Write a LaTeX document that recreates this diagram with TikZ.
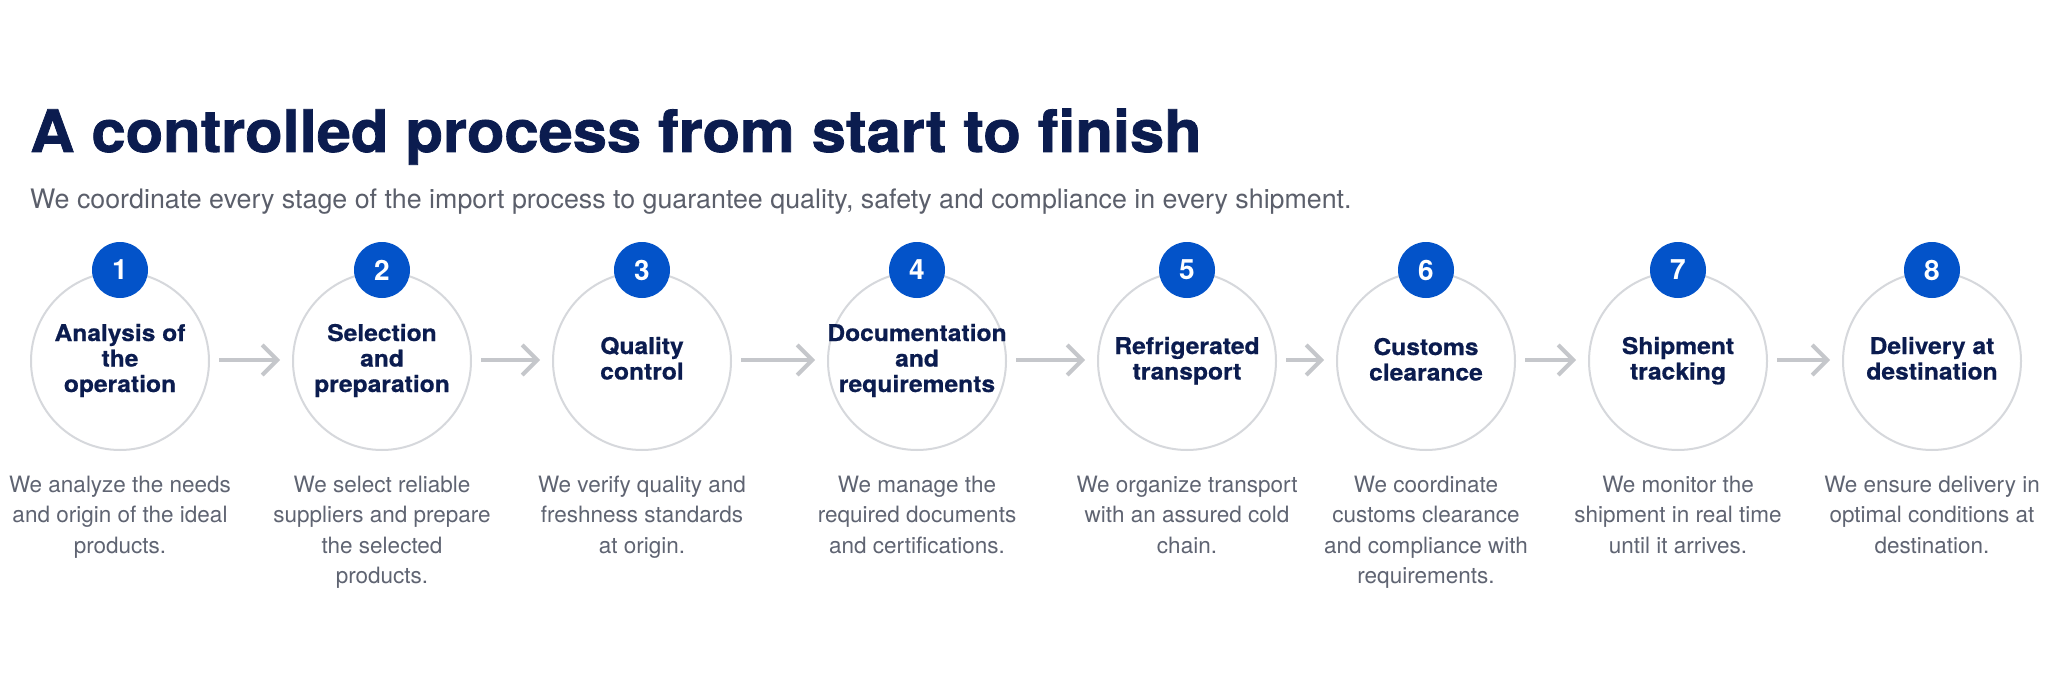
\documentclass[tikz,border=0pt]{standalone}
\usepackage{fontspec}
\setmainfont{TeX Gyre Heros}
\newfontfamily\heavyfont{TeX Gyre Heros}[BoldFeatures={FakeBold=1.3, FakeStretch=1.05}]
\newfontfamily\stepfont{TeX Gyre Heros}[BoldFeatures={FakeBold=0.6, FakeStretch=1.07}]
\usetikzlibrary{arrows.meta}
\definecolor{navy}{HTML}{0B1C4F}
\definecolor{subgray}{HTML}{5B5F6B}
\definecolor{descgray}{HTML}{5F6472}
\definecolor{badgeblue}{HTML}{0353C9}
\definecolor{ringgray}{HTML}{D6D8DC}
\definecolor{arrowgray}{HTML}{C5C7CB}
\tikzset{
  circ/.style={circle, draw=ringgray, line width=2pt, fill=white, minimum size=178pt, inner sep=0pt, outer sep=0pt},
  badge/.style={circle, fill=badgeblue, minimum size=56pt, inner sep=0pt, text=white, font=\fontsize{28}{28}\selectfont\bfseries},
  steptitle/.style={anchor=base, inner sep=0pt, text=navy, font=\fontsize{23}{25.5}\selectfont\stepfont\bfseries},
  stepdesc/.style={anchor=base, inner sep=0pt, text=descgray, font=\fontsize{22.5}{30.5}\selectfont},
  arr/.style={draw=arrowgray, line width=4pt, shorten <=10pt, shorten >=13pt, -{Straight Barb[length=15pt, width=30pt, line width=4pt]}}
}
\newcommand{\lines}[1]{\begin{tabular}[t]{@{}c@{}}#1\end{tabular}}
\begin{document}
\begin{tikzpicture}[x=1pt,y=-1pt]
\fill[white] (0,0) rectangle (2048,682);
\useasboundingbox (0,0) rectangle (2048,682);

\node[anchor=base west, inner sep=0pt, text=navy, font=\fontsize{58.5}{58.5}\selectfont\heavyfont\bfseries] (title) at (30,152) {A controlled process from start to finish};
\node[anchor=base west, inner sep=0pt, text=subgray, font=\fontsize{26.8}{26.8}\selectfont] (subtitle) at (30,208) {We coordinate every stage of the import process to guarantee quality, safety and compliance in every shipment.};

% circles
\node[circ] (c1) at (120,361) {};
\node[circ] (c2) at (382,361) {};
\node[circ] (c3) at (642,361) {};
\node[circ] (c4) at (917,361) {};
\node[circ] (c5) at (1187,361) {};
\node[circ] (c6) at (1426,361) {};
\node[circ] (c7) at (1678,361) {};
\node[circ] (c8) at (1932,361) {};

% badges
\node[badge] (b1) at ([yshift=2pt]c1.north) {1};
\node[badge] (b2) at ([yshift=2pt]c2.north) {2};
\node[badge] (b3) at ([yshift=2pt]c3.north) {3};
\node[badge] (b4) at ([yshift=2pt]c4.north) {4};
\node[badge] (b5) at ([yshift=2pt]c5.north) {5};
\node[badge] (b6) at ([yshift=2pt]c6.north) {6};
\node[badge] (b7) at ([yshift=2pt]c7.north) {7};
\node[badge] (b8) at ([yshift=2pt]c8.north) {8};

% step titles
\node[steptitle] (t1) at (120,341) {\lines{Analysis of\\the\\operation}};
\node[steptitle] (t2) at (382,341) {\lines{Selection\\and\\preparation}};
\node[steptitle] (t3) at (642,354) {\lines{Quality\\control}};
\node[steptitle] (t4) at (917,341) {\lines{Documentation\\and\\requirements}};
\node[steptitle] (t5) at (1187,354) {\lines{Refrigerated\\transport}};
\node[steptitle] (t6) at (1426,355) {\lines{Customs\\clearance}};
\node[steptitle] (t7) at (1678,354) {\lines{Shipment\\tracking}};
\node[steptitle] (t8) at (1932,354) {\lines{Delivery at\\destination}};

% descriptions
\node[stepdesc] (d1) at (120,492) {\lines{We analyze the needs\\and origin of the ideal\\products.}};
\node[stepdesc] (d2) at (382,492) {\lines{We select reliable\\suppliers and prepare\\the selected\\products.}};
\node[stepdesc] (d3) at (642,492) {\lines{We verify quality and\\freshness standards\\at origin.}};
\node[stepdesc] (d4) at (917,492) {\lines{We manage the\\required documents\\and certifications.}};
\node[stepdesc] (d5) at (1187,492) {\lines{We organize transport\\with an assured cold\\chain.}};
\node[stepdesc] (d6) at (1426,492) {\lines{We coordinate\\customs clearance\\and compliance with\\requirements.}};
\node[stepdesc] (d7) at (1678,492) {\lines{We monitor the\\shipment in real time\\until it arrives.}};
\node[stepdesc] (d8) at (1932,492) {\lines{We ensure delivery in\\optimal conditions at\\destination.}};

% arrows
\draw[arr] ([yshift=1pt]c1.east) -- ([yshift=1pt]c2.west);
\draw[arr] ([yshift=1pt]c2.east) -- ([yshift=1pt]c3.west);
\draw[arr] ([yshift=1pt]c3.east) -- ([yshift=1pt]c4.west);
\draw[arr] ([yshift=1pt]c4.east) -- ([yshift=1pt]c5.west);
\draw[arr] ([yshift=1pt]c5.east) -- ([yshift=1pt]c6.west);
\draw[arr] ([yshift=1pt]c6.east) -- ([yshift=1pt]c7.west);
\draw[arr] ([yshift=1pt]c7.east) -- ([yshift=1pt]c8.west);
\end{tikzpicture}
\end{document}
